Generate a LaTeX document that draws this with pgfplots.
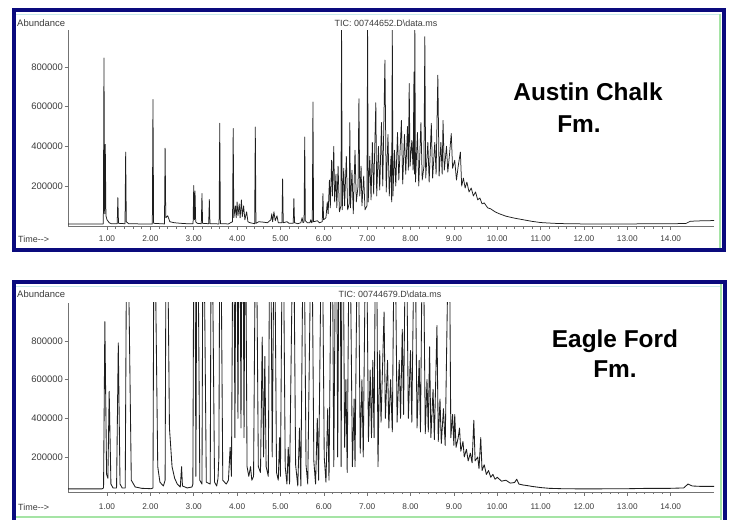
\documentclass[border=0pt]{standalone}
\usepackage{pgfplots}
\pgfplotsset{compat=1.18}
\usepackage{fontspec}
\setmainfont{Liberation Sans}
\definecolor{frameblue}{RGB}{10,10,125}
\definecolor{framegreen}{RGB}{165,228,165}
\definecolor{framecyan}{RGB}{200,235,235}
\definecolor{tracec}{RGB}{30,30,30}
\definecolor{txtc}{RGB}{60,60,60}

\pgfplotstableread{
t h
0.10 8000
0.90 8000
0.915 10000
0.93 845000
0.945 60000
0.96 410000
0.975 50000
1.00 30000
1.05 15000
1.10 10000
1.235 10000
1.25 142000
1.265 12000
1.415 10000
1.43 371000
1.445 20000
1.50 10000
2.045 8000
2.06 636000
2.075 12000
2.325 9000
2.34 391000
2.355 40000
2.40 50000
2.45 20000
2.55 15000
2.70 12000
2.85 10000
2.985 10000
3.00 203000
3.015 30000
3.03 175000
3.045 20000
3.08 12000
3.175 10000
3.19 162000
3.205 12000
3.345 10000
3.36 132000
3.375 10000
3.585 9000
3.60 516000
3.615 10000
3.80 9000
3.85 15000
3.895 20000
3.91 490000
3.925 40000
3.96 100000
3.98 40000
4.00 120000
4.02 50000
4.05 110000
4.07 40000
4.10 130000
4.12 45000
4.15 100000
4.18 30000
4.22 70000
4.25 20000
4.30 15000
4.405 10000
4.42 498000
4.435 12000
4.50 20000
4.60 18000
4.70 15000
4.78 30000
4.80 60000
4.82 20000
4.85 70000
4.88 25000
4.92 50000
4.95 15000
5.035 15000
5.05 236000
5.065 15000
5.15 20000
5.20 12000
5.295 12000
5.31 137000
5.325 15000
5.40 10000
5.47 15000
5.50 40000
5.52 15000
5.545 20000
5.56 447000
5.575 25000
5.62 15000
5.68 15000
5.70 30000
5.72 15000
5.735 20000
5.75 624000
5.765 20000
5.85 25000
5.90 15000
5.965 20000
5.98 162000
5.995 30000
6.05 40000
6.08 120000
6.10 60000
6.13 230000
6.15 90000
6.18 330000
6.20 150000
6.23 400000
6.25 120000
6.28 260000
6.30 90000
6.33 300000
6.36 70000
6.395 100000
6.41 1000000
6.425 80000
6.46 290000
6.48 100000
6.52 350000
6.55 80000
6.585 110000
6.60 520000
6.615 90000
6.65 280000
6.68 60000
6.72 380000
6.75 120000
6.79 200000
6.81 640000
6.83 150000
6.86 300000
6.88 100000
6.92 250000
6.95 80000
6.995 100000
7.01 1000000
7.025 120000
7.06 350000
7.09 130000
7.12 420000
7.15 160000
7.20 620000
7.22 150000
7.26 400000
7.29 180000
7.33 520000
7.36 200000
7.41 835000
7.44 170000
7.48 460000
7.51 150000
7.55 350000
7.565 120000
7.58 1000000
7.595 150000
7.63 380000
7.66 200000
7.70 470000
7.73 230000
7.79 531000
7.82 210000
7.86 460000
7.89 260000
7.93 500000
7.95 280000
7.97 717000
7.99 300000
8.03 430000
8.06 280000
8.08 775000
8.09 260000
8.10 1000000
8.115 220000
8.16 470000
8.19 200000
8.24 520000
8.27 230000
8.31 300000
8.33 953000
8.35 240000
8.40 420000
8.43 220000
8.48 516000
8.51 240000
8.56 420000
8.59 260000
8.63 759000
8.66 250000
8.70 420000
8.73 260000
8.75 531000
8.78 280000
8.83 400000
8.86 270000
8.90 360000
8.94 465000
8.97 290000
9.02 330000
9.06 230000
9.10 300000
9.15 371000
9.18 200000
9.22 240000
9.26 190000
9.30 220000
9.35 170000
9.40 190000
9.45 150000
9.50 170000
9.55 130000
9.60 140000
9.65 110000
9.70 115000
9.78 90000
9.85 85000
9.95 70000
10.05 60000
10.2 48000
10.4 38000
10.6 30000
10.8 22000
11.0 16000
11.3 12000
11.6 10000
12.0 9000
13.0 9000
14.0 10000
14.35 11000
14.45 22000
14.6 24000
15.0 26000
}\austin

\pgfplotstableread{
t h
0.10 35000
0.88 35000
0.92 40000
0.95 900000
0.99 110000
1.02 90000
1.05 540000
1.09 60000
1.14 40000
1.22 40000
1.26 790000
1.30 60000
1.35 40000
1.42 40000
1.45 1300000
1.49 1300000
1.56 80000
1.65 45000
1.80 38000
2.02 36000
2.06 40000
2.08 1300000
2.11 1300000
2.17 150000
2.22 70000
2.30 50000
2.34 80000
2.36 1300000
2.40 1300000
2.44 350000
2.50 150000
2.56 90000
2.62 60000
2.69 45000
2.72 150000
2.74 50000
2.85 40000
2.96 45000
2.98 60000
3.00 1300000
3.03 1300000
3.05 100000
3.07 1300000
3.10 1300000
3.14 80000
3.19 60000
3.21 1300000
3.24 1300000
3.29 70000
3.38 60000
3.40 1300000
3.43 1300000
3.48 70000
3.53 50000
3.56 90000
3.58 200000
3.60 1300000
3.63 1300000
3.67 80000
3.75 60000
3.80 80000
3.84 250000
3.87 100000
3.90 1300000
3.93 1300000
3.95 300000
3.97 1300000
4.00 1300000
4.02 400000
4.04 1300000
4.07 1300000
4.09 350000
4.11 1300000
4.14 1300000
4.16 300000
4.18 1300000
4.20 1300000
4.23 150000
4.27 100000
4.31 150000
4.34 80000
4.38 100000
4.42 1300000
4.45 1300000
4.49 150000
4.54 120000
4.58 820000
4.61 200000
4.64 720000
4.67 150000
4.72 100000
4.75 1300000
4.78 1300000
4.81 200000
4.85 1300000
4.87 1300000
4.91 120000
4.95 80000
4.98 300000
5.00 100000
5.04 1300000
5.07 1300000
5.11 150000
5.15 60000
5.18 250000
5.21 60000
5.28 1300000
5.31 1300000
5.35 160000
5.40 50000
5.44 350000
5.47 50000
5.52 1300000
5.55 1300000
5.59 160000
5.63 60000
5.70 1300000
5.73 1300000
5.77 180000
5.81 60000
5.85 400000
5.88 80000
5.94 1300000
5.97 1300000
6.01 200000
6.05 70000
6.09 450000
6.12 80000
6.17 1300000
6.20 1300000
6.23 150000
6.27 1300000
6.30 1300000
6.32 200000
6.35 1300000
6.38 1300000
6.40 150000
6.42 1300000
6.45 1300000
6.48 250000
6.51 600000
6.54 120000
6.58 1300000
6.61 1300000
6.66 150000
6.70 500000
6.72 150000
6.77 1300000
6.80 1300000
6.84 220000
6.88 600000
6.91 200000
6.96 1300000
6.99 1300000
7.03 280000
7.07 650000
7.10 300000
7.13 700000
7.16 300000
7.19 1300000
7.22 1300000
7.25 150000
7.29 750000
7.32 380000
7.39 950000
7.42 400000
7.47 700000
7.50 350000
7.54 600000
7.58 330000
7.62 1300000
7.65 1300000
7.69 380000
7.74 700000
7.77 400000
7.81 860000
7.84 420000
7.88 1300000
7.91 1300000
7.95 400000
8.00 750000
8.03 380000
8.08 1300000
8.11 1300000
8.15 350000
8.20 700000
8.23 330000
8.27 1300000
8.30 1300000
8.34 320000
8.38 600000
8.41 330000
8.44 770000
8.47 300000
8.52 550000
8.55 290000
8.61 880000
8.64 280000
8.68 500000
8.71 270000
8.76 450000
8.80 260000
8.87 1300000
8.90 1300000
8.93 300000
8.97 420000
9.00 260000
9.02 420000
9.05 250000
9.10 300000
9.13 350000
9.16 230000
9.21 280000
9.24 200000
9.29 240000
9.33 180000
9.38 220000
9.42 170000
9.46 390000
9.49 180000
9.55 200000
9.58 140000
9.62 300000
9.65 130000
9.70 160000
9.75 110000
9.80 130000
9.85 95000
9.90 110000
9.95 85000
10.0 95000
10.1 75000
10.2 80000
10.3 65000
10.4 68000
10.45 85000
10.5 60000
10.6 55000
10.7 52000
10.8 48000
10.9 45000
11.0 42000
11.2 38000
11.5 36000
12.0 35000
13.0 36000
13.5 38000
14.0 38000
14.3 40000
14.4 60000
14.5 50000
14.7 48000
15.0 48000
}\eagle

\pgfplotsset{
  chrom/.style={
    scale only axis, width=646bp, anchor=south west,
    xmin=0.1, xmax=15,
    axis x line*=bottom, axis y line*=left,
    axis line style={black!55, line width=0.6bp},
    xtick={1,2,3,4,5,6,7,8,9,10,11,12,13,14},
    xticklabels={1.00,2.00,3.00,4.00,5.00,6.00,7.00,8.00,9.00,10.00,11.00,12.00,13.00,14.00},
    minor x tick num=4,
    ytick={200000,400000,600000,800000},
    yticklabels={200000,400000,600000,800000},
    scaled y ticks=false, scaled x ticks=false,
    tick style={black!55, line width=0.5bp},
    major tick length=3.5bp, minor tick length=2.2bp,
    tick align=outside,
    x tick label style={font=\fontsize{8.3}{9}\selectfont, text=txtc},
    y tick label style={font=\fontsize{9.5}{10}\selectfont, text=txtc, xshift=2bp},
    clip=true,
  },
  trace/.style={tracec, line width=0.75bp, line join=round, mark=none},
}

\begin{document}
\begin{tikzpicture}
\fill[white, use as bounding box] (0bp,0bp) rectangle (732bp,520bp);

% ---- frames ----
\draw[framecyan, line width=1bp] (16bp,505bp) -- (720bp,505bp);
\draw[framegreen, line width=1.2bp] (720bp,506bp) -- (720bp,272bp);
\draw[frameblue, line width=3.6bp] (14bp,510bp) rectangle (724bp,270bp);

\draw[framecyan, line width=1bp] (16bp,233bp) -- (720bp,233bp);
\draw[framegreen, line width=1.2bp] (721bp,236bp) -- (721bp,-2bp);
\draw[framegreen, line width=1.2bp] (16bp,3bp) -- (721bp,3bp);
\draw[frameblue, line width=3.6bp] (14bp,-10bp) -- (14bp,238bp) -- (725bp,238bp) -- (725bp,-10bp);

% ---- top panel ----
\begin{axis}[chrom, at={(68bp,293.5bp)}, height=196.5bp,
  ymin=-4000, ymax=986700,
  x tick label style={yshift=-2.5bp}]
\addplot[trace] table[x=t,y=h] {\austin};
\end{axis}

% ---- bottom panel ----
\begin{axis}[chrom, at={(68bp,28bp)}, height=189bp,
  ymin=19000, ymax=996500,
  x tick label style={yshift=-5bp}]
\addplot[trace, line width=0.85bp] table[x=t,y=h] {\eagle};
\end{axis}

% ---- texts ----
\node[anchor=west, inner sep=0, text=txtc, font=\fontsize{9.5}{10}\selectfont] at (17bp,497bp) {Abundance};
\node[anchor=center, inner sep=0, text=txtc, font=\fontsize{9}{10}\selectfont] at (386bp,497bp) {TIC: 00744652.D\textbackslash data.ms};
\node[anchor=west, inner sep=0, text=txtc, font=\fontsize{9}{10}\selectfont] at (18bp,281bp) {Time-{}-{}>};

\node[anchor=west, inner sep=0, text=txtc, font=\fontsize{9.5}{10}\selectfont] at (17bp,226bp) {Abundance};
\node[anchor=center, inner sep=0, text=txtc, font=\fontsize{9}{10}\selectfont] at (390bp,226bp) {TIC: 00744679.D\textbackslash data.ms};
\node[anchor=west, inner sep=0, text=txtc, font=\fontsize{9}{10}\selectfont] at (18bp,13bp) {Time-{}-{}>};

\node[anchor=base, inner sep=0, font=\fontsize{24.5}{28}\selectfont\bfseries] at (588bp,419bp) {Austin Chalk};
\node[anchor=base, inner sep=0, font=\fontsize{24.5}{28}\selectfont\bfseries] at (579bp,387bp) {Fm.};
\node[anchor=base, inner sep=0, font=\fontsize{24.5}{28}\selectfont\bfseries] at (615bp,172bp) {Eagle Ford};
\node[anchor=base, inner sep=0, font=\fontsize{24.5}{28}\selectfont\bfseries] at (615bp,142bp) {Fm.};
\end{tikzpicture}
\end{document}
